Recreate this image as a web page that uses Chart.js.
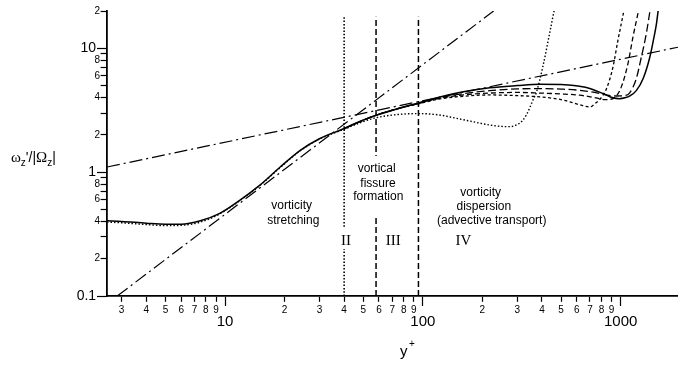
<!DOCTYPE html>
<html>
<head>
<meta charset="utf-8">
<script src="https://cdn.jsdelivr.net/npm/chart.js@4/dist/chart.umd.min.js"></script>
<style>
  html, body { margin: 0; padding: 0; background: #fff; }
  #wrap { width: 678px; height: 365px; }
</style>
</head>
<body>
<div id="wrap"><canvas id="chart" width="678" height="365"></canvas></div>
<script>
// y+ vs w'/|W| curves
const solidX = [2.53, 3, 4, 5, 6, 7.5, 9.4, 11.9, 15, 19, 24, 30, 40, 48, 58, 75, 95, 122, 160, 218, 300, 390, 500, 621, 671, 815, 915, 985, 1050, 1120, 1200, 1300, 1400, 1470, 1515, 1550];
const solidY = [0.405, 0.4, 0.387, 0.38, 0.38, 0.405, 0.465, 0.594, 0.785, 1.1, 1.5, 1.86, 2.25, 2.57, 2.88, 3.26, 3.62, 4.05, 4.45, 4.8, 5.0, 5.12, 5.1, 4.93, 4.83, 4.31, 3.98, 3.92, 3.98, 4.15, 4.55, 5.7, 8.3, 12, 15.5, 20.5];

const longDashX = [40, 58, 75, 95, 122, 160, 218, 300, 390, 500, 621, 739, 850, 950, 1047, 1109, 1200, 1273, 1349, 1410];
const longDashY = [2.25, 2.88, 3.26, 3.6, 4.0, 4.3, 4.55, 4.7, 4.73, 4.68, 4.58, 4.4, 4.2, 4.12, 4.15, 4.35, 5.7, 8.5, 13.2, 20.5];

const midDashX = [40, 58, 75, 95, 122, 160, 218, 300, 390, 500, 621, 739, 830, 915, 1008, 1089, 1154, 1235];
const midDashY = [2.25, 2.88, 3.26, 3.58, 3.95, 4.2, 4.35, 4.4, 4.35, 4.28, 4.18, 4.0, 3.85, 3.92, 4.88, 7.53, 12.3, 20.5];

const shortDashX = [40, 58, 75, 95, 122, 160, 218, 300, 390, 500, 621, 700, 745, 783, 847, 915, 969, 1045];
const shortDashY = [2.25, 2.88, 3.26, 3.56, 3.9, 4.1, 4.2, 4.15, 4.05, 3.85, 3.5, 3.36, 3.6, 3.85, 4.7, 7.07, 11.6, 21];

const dottedX = [2.53, 3, 4, 5, 6, 7.5, 9.4, 11.9, 15, 19, 24, 30, 40, 48, 58, 75, 95, 120, 148, 180, 218, 250, 275, 300, 320, 333, 347, 360, 375, 404, 437, 462];
const dottedY = [0.395, 0.39, 0.377, 0.37, 0.372, 0.395, 0.46, 0.59, 0.78, 1.09, 1.49, 1.85, 2.22, 2.5, 2.75, 2.92, 2.97, 2.9, 2.72, 2.55, 2.4, 2.34, 2.33, 2.42, 2.62, 2.88, 3.3, 3.81, 4.4, 7.07, 13.1, 20.5];

// power-law guide lines (dash-dot)
const steepX = [2.85, 228];
const steepY = [0.1, 20];
const shallowX = [2.53, 1950];
const shallowY = [1.1, 10.2];

// region boundaries
const boundaryX = [40, 58, 95];
const boundaryY = [0.1, 18];

const xTickValues = [3, 4, 5, 6, 7, 8, 9, 10, 20, 30, 40, 50, 60, 70, 80, 90, 100, 200, 300, 400, 500, 600, 700, 800, 900, 1000];
const xTickLabels = ['3', '4', '5', '6', '7', '8', '9', '10', '2', '3', '4', '5', '6', '7', '8', '9', '100', '2', '3', '4', '5', '6', '7', '8', '9', '1000'];
const yTickValues = [0.1, 0.2, 0.3, 0.4, 0.5, 0.6, 0.7, 0.8, 0.9, 1, 2, 3, 4, 5, 6, 7, 8, 9, 10, 20];
const yTickLabels = ['0.1 ', '2', '', '4', '', '6', '', '8', '', '1 ', '2', '', '4', '', '6', '', '8', '', '10 ', '2'];
const majorValues = [0.1, 1, 10, 100, 1000];

const regionLabels = ['vorticity', 'stretching', 'vortical', 'fissure', 'formation', 'vorticity', 'dispersion', '(advective transport)'];
const regionNumerals = ['II', 'III', 'IV'];

const SANS = '"Liberation Sans", Arial, sans-serif';
const SERIF = '"Liberation Serif", "Times New Roman", serif';

const pts = (xs, ys) => xs.map((x, i) => ({ x: x, y: ys[i] }));
const isMajor = ctx => ctx.tick && majorValues.includes(ctx.tick.value);

function curve(xs, ys, dash, width) {
  return {
    data: pts(xs, ys),
    borderColor: '#000',
    borderWidth: width,
    borderDash: dash,
    pointRadius: 0,
    showLine: true,
    cubicInterpolationMode: 'monotone'
  };
}

function straight(xs, ys, dash, width) {
  return {
    data: pts(xs, ys),
    borderColor: '#000',
    borderWidth: width,
    borderDash: dash,
    pointRadius: 0,
    showLine: true,
    tension: 0
  };
}

const datasets = [
  straight(steepX, steepY, [13, 4, 2, 4], 1.2),
  straight(shallowX, shallowY, [13, 4, 2, 4], 1.2),
  curve(dottedX, dottedY, [1.5, 2], 1.4),
  curve(shortDashX, shortDashY, [3, 2.5], 1.3),
  curve(midDashX, midDashY, [5, 3], 1.3),
  curve(longDashX, longDashY, [8, 3.5], 1.3),
  curve(solidX, solidY, [], 1.5),
  straight([boundaryX[0], boundaryX[0]], boundaryY, [1.5, 1.8], 1.6),
  straight([boundaryX[1], boundaryX[1]], boundaryY, [6, 3], 1.5),
  straight([boundaryX[2], boundaryX[2]], boundaryY, [6, 3], 1.5)
];

const textPlugin = {
  id: 'texts',
  afterDatasetsDraw(chart) {
    const c = chart.ctx;
    c.save();
    // white boxes behind the middle label and the "II"
    c.fillStyle = '#fff';
    c.fillRect(349, 156, 58, 61);
    c.fillRect(339, 228, 14, 21);

    c.fillStyle = '#000';
    c.textAlign = 'center';
    c.textBaseline = 'middle';
    c.font = '12px ' + SANS;
    const spots = [[291.7, 206], [293.3, 220.7], [376.7, 168.3], [378, 183.3], [378.3, 196.7], [480.7, 192.7], [483.8, 206.7], [491.7, 221]];
    regionLabels.forEach((t, i) => c.fillText(t, spots[i][0], spots[i][1]));

    c.font = '15px ' + SERIF;
    const numSpots = [[346, 241], [393.3, 241], [463.3, 241]];
    regionNumerals.forEach((t, i) => c.fillText(t, numSpots[i][0], numSpots[i][1]));
    c.restore();
  },
  afterDraw(chart) {
    const c = chart.ctx;
    c.save();
    c.fillStyle = '#000';
    c.textAlign = 'left';
    c.textBaseline = 'alphabetic';
    // y title: wz'/|Wz|
    let x = 11;
    const base = 162;
    const parts = [
      ['\u03c9', '15px ' + SERIF, 0],
      ['z', '10px ' + SANS, 4],
      ["'/|", '14px ' + SANS, 0],
      ['\u03a9', '15px ' + SERIF, 0],
      ['z', '10px ' + SANS, 4],
      ['|', '14px ' + SANS, 0]
    ];
    parts.forEach(p => {
      c.font = p[1];
      c.fillText(p[0], x, base + p[2]);
      x += c.measureText(p[0]).width;
    });
    // x title: y+
    c.font = '15px ' + SANS;
    c.fillText('y', 400, 356);
    c.font = '10px ' + SANS;
    c.fillText('+', 409, 347);
    c.restore();
  }
};

new Chart(document.getElementById('chart'), {
  type: 'scatter',
  data: { datasets: datasets },
  options: {
    responsive: false,
    animation: false,
    devicePixelRatio: 1,
    layout: { padding: { top: 11, left: 0, right: 0, bottom: 0 } },
    plugins: { legend: { display: false }, tooltip: { enabled: false } },
    scales: {
      x: {
        type: 'logarithmic',
        min: 2.53,
        max: 1950,
        bounds: 'data',
        afterBuildTicks: s => { s.ticks = xTickValues.map(v => ({ value: v })); },
        afterFit: s => { s.height = 69; },
        border: { display: true, color: '#000', width: 1.8 },
        grid: {
          drawOnChartArea: false,
          drawTicks: true,
          tickLength: 10,
          tickColor: '#000',
          tickWidth: 1.2,
          tickBorderDash: ctx => isMajor(ctx) ? [] : [5, 30]
        },
        ticks: {
          autoSkip: false,
          maxRotation: 0,
          color: '#000',
          padding: 0,
          callback: (v, i) => xTickLabels[i],
          font: ctx => isMajor(ctx)
            ? { family: SANS, size: 15, lineHeight: 2.13 }
            : { family: SANS, size: 10, lineHeight: 0.8 }
        }
      },
      y: {
        type: 'logarithmic',
        min: 0.1,
        max: 20,
        bounds: 'data',
        afterBuildTicks: s => { s.ticks = yTickValues.map(v => ({ value: v })); },
        afterFit: s => { s.width = 107; },
        border: { display: true, color: '#000', width: 1.8 },
        grid: {
          drawOnChartArea: false,
          drawTicks: true,
          tickLength: 10,
          tickColor: '#000',
          tickWidth: 1.2,
          // left ticks are drawn from the outer end, so skip the first part
          tickBorderDash: ctx => isMajor(ctx) ? [] : [5.5, 3.6],
          tickBorderDashOffset: ctx => isMajor(ctx) ? 0 : 5.5
        },
        ticks: {
          autoSkip: false,
          color: '#000',
          padding: -3,
          callback: (v, i) => yTickLabels[i],
          font: ctx => isMajor(ctx)
            ? { family: SANS, size: 14 }
            : { family: SANS, size: 10 }
        }
      }
    }
  },
  plugins: [textPlugin]
});
</script>
</body>
</html>
